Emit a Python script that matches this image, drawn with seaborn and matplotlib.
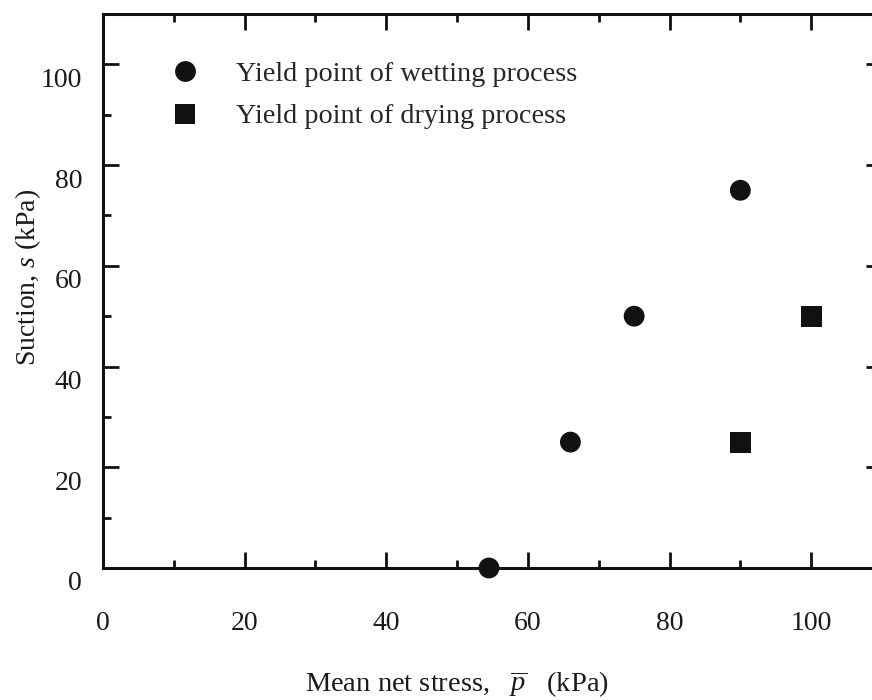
import matplotlib
matplotlib.use("Agg")
import matplotlib.pyplot as plt
import matplotlib.transforms as mtransforms
from matplotlib.ticker import MultipleLocator
import seaborn as sns
import pandas as pd

# ---- data ----
wet_p = [54.5, 66, 75, 90]
wet_s = [0, 25, 50, 75]
dry_p = [90, 100]
dry_s = [25, 50]
wet_label = "Yield point of wetting process"
dry_label = "Yield point of drying process"
x_ticks = [0, 20, 40, 60, 80, 100]
y_ticks = [0, 20, 40, 60, 80, 100]

df = pd.DataFrame({
    "p": wet_p + dry_p,
    "s": wet_s + dry_s,
    "process": [wet_label] * len(wet_p) + [dry_label] * len(dry_p),
})

sns.set_style("ticks")
plt.rcParams["font.family"] = ["Liberation Serif", "DejaVu Serif"]
plt.rcParams["mathtext.fontset"] = "custom"
plt.rcParams["mathtext.rm"] = "Liberation Serif"
plt.rcParams["mathtext.it"] = "Liberation Serif:italic"

W, H = 872, 700
fig = plt.figure(figsize=(W / 100, H / 100), dpi=100)
left, right, top, bottom = 103, 882, 14, 568
ax = fig.add_axes([left / W, (H - bottom) / H, (right - left) / W, (bottom - top) / H])

sns.scatterplot(data=df, x="p", y="s", style="process",
                markers={wet_label: "o", dry_label: "s"},
                color="#111111", edgecolor="#111111", linewidth=0,
                s=225, ax=ax, clip_on=False, zorder=5)

ax.set_xlim(0, 110)
ax.set_ylim(0, 110)
ax.set_xticks(x_ticks)
ax.set_yticks(y_ticks)
ax.set_xticklabels([str(v) for v in x_ticks])
ax.set_yticklabels([str(v) for v in y_ticks])
ax.xaxis.set_minor_locator(MultipleLocator(10))
ax.yaxis.set_minor_locator(MultipleLocator(10))

for sp in ax.spines.values():
    sp.set_visible(True)
    sp.set_linewidth(2.2)
    sp.set_color("#111111")

ax.tick_params(which="both", direction="in", top=True, right=True,
               color="#111111", width=2.0)
ax.tick_params(which="major", length=11.5)
ax.tick_params(which="minor", length=6)
ax.tick_params(axis="x", which="major", pad=31, labelsize=20, labelcolor="#1a1a1a")
ax.tick_params(axis="y", which="major", pad=15, labelsize=20, labelcolor="#1a1a1a")

off = mtransforms.ScaledTranslation(0, -0.13, fig.dpi_scale_trans)
for lab in ax.get_yticklabels():
    lab.set_transform(lab.get_transform() + off)

ax.set_xlabel(r"Mean net stress,   $\overline{p}$   (kPa)", fontsize=20.5, color="#1a1a1a")
ax.set_ylabel(r"Suction, $s$ (kPa)", fontsize=20, color="#1a1a1a")
ax.xaxis.set_label_coords((457 - left) / (right - left), (bottom - 669) / (bottom - top))
ax.yaxis.set_label_coords((43 - left) / (right - left), (bottom - 277) / (bottom - top))

handles, labels = ax.get_legend_handles_labels()
if ax.get_legend() is not None:
    ax.get_legend().remove()
ax.legend(handles, labels, loc="upper left",
          bbox_to_anchor=((171 - left) / (right - left), (bottom - 61) / (bottom - top)),
          frameon=False, fontsize=20.3, handlelength=1.0, handletextpad=1.3,
          labelspacing=0.6, borderpad=0, borderaxespad=0)

fig.savefig("out.png", dpi=100, facecolor="white")
